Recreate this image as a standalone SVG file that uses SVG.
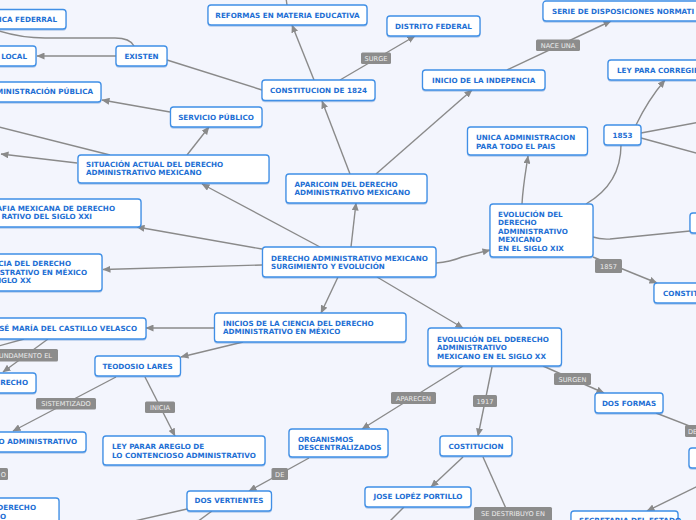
<svg xmlns="http://www.w3.org/2000/svg" width="696" height="520" viewBox="0 0 696 520">
<defs>
<marker id="ah" markerUnits="userSpaceOnUse" markerWidth="8" markerHeight="7" refX="7.5" refY="3.5" orient="auto">
<path d="M0,0 L8,3.5 L0,7 z" fill="#8a8a8a"/>
</marker>
<filter id="sh" x="-10%" y="-20%" width="120%" height="150%">
<feDropShadow dx="0" dy="1" stdDeviation="0.7" flood-color="#3a78c8" flood-opacity="0.35"/>
</filter>
<style>
.bg{fill:#f3f5fd}
.n rect{fill:#ffffff;stroke:#3f8fe6;stroke-width:1.3;filter:url(#sh)}
.n text{font-family:"DejaVu Sans",Verdana,sans-serif;font-weight:bold;font-size:7.2px;fill:#1e6fd4}
.c{fill:none;stroke:#8a8a8a;stroke-width:1.4}
.a{marker-end:url(#ah)}
.l rect{fill:#8c8c8c}
.l text{font-family:"DejaVu Sans",Verdana,sans-serif;font-size:6.6px;fill:#ececec;text-anchor:middle}
.m{text-anchor:middle}
.e{text-anchor:end}
</style>
</defs>
<rect class="bg" x="0" y="0" width="696" height="520"/>

<g id="connectors">
<path class="c" d="M134,46 Q130,38 115,38 L45,38 Q20,38 -4,30"/>
<path class="c a" d="M116,56 L37,56"/>
<path class="c" d="M262,90 L167,60"/>
<path class="c a" d="M170,112 L102,100"/>
<path class="c a" d="M187,155 L209,127"/>
<path class="c a" d="M77,163 L1,154"/>
<path class="c" d="M110,155 L-5,126"/>
<path class="c a" d="M314,80 L292,25"/>
<path class="c a" d="M340,80 L415,36"/>
<path class="c a" d="M507,70 L611,21"/>
<path class="c a" d="M350,174 L322,101"/>
<path class="c a" d="M376,174 L472,90"/>
<path class="c a" d="M351,247 L356,203"/>
<path class="c a" d="M320,247 L202,184"/>
<path class="c a" d="M262,249 L137,227"/>
<path class="c a" d="M262,265 L103,269.5"/>
<path class="c a" d="M338,277 L321,313"/>
<path class="c a" d="M377,277 L463,328"/>
<path class="c a" d="M436,263 Q450,262 462,257 L490,250"/>
<path class="c a" d="M522,204 C523,185 526,170 528,156"/>
<path class="c" d="M586,204 C610,190 621,170 621,145"/>
<path class="c a" d="M636,125 Q648,100 665,80"/>
<path class="c" d="M641,133 L700,122"/>
<path class="c" d="M641,138 L700,154"/>
<path class="c" d="M593,237 Q600,239.5 610,239 L690,231"/>
<path class="c a" d="M593,257 L657,283"/>
<path class="c a" d="M214,328 L146,328"/>
<path class="c a" d="M243,342 L181,357"/>
<path class="c" d="M24,339 L-5,347"/>
<path class="c a" d="M48,339 L3,372"/>
<path class="c a" d="M116,377 L13,431"/>
<path class="c a" d="M145,377 L175,436"/>
<path class="c a" d="M463,366 L362,429"/>
<path class="c a" d="M309,458 L249,491"/>
<path class="c" d="M187,509 L130,522"/>
<path class="c" d="M212,511 L197,522"/>
<path class="c a" d="M492,367 L478,436"/>
<path class="c a" d="M543,366 L604,393"/>
<path class="c" d="M656,413 L700,430"/>
<path class="c a" d="M700,485 L647,511"/>
<path class="c a" d="M463,457 L431,487"/>
<path class="c" d="M483,457 L512,522"/>
<path class="c" d="M404,507 L389,522"/>
<path class="c" d="M287,5 L286,-2"/>
<g class="l">
<rect x="361" y="52.5" width="30" height="11.5" rx="1.5"/><text x="376" y="60.8">SURGE</text>
<rect x="536" y="39.5" width="44" height="11.5" rx="1.5"/><text x="558" y="47.8">NACE UNA</text>
<rect x="595" y="259" width="27" height="14" rx="1.5"/><text x="608.5" y="268.5">1857</text>
<rect x="-20" y="349" width="78" height="12.5" rx="1.5"/><text x="52" y="357.5" style="text-anchor:end">FUNDAMENTO EL</text>
<rect x="36" y="398" width="60" height="11.5" rx="1.5"/><text x="66" y="406.3">SISTEMTIZADO</text>
<rect x="145" y="401.5" width="30" height="11.5" rx="1.5"/><text x="160" y="409.8">INICIA</text>
<rect x="-20" y="468" width="28" height="12" rx="1.5"/><text x="6" y="476.5" style="text-anchor:end">O</text>
<rect x="391" y="392" width="45" height="12" rx="1.5"/><text x="413.5" y="400.5">APARECEN</text>
<rect x="271.5" y="468" width="16.5" height="12" rx="1.5"/><text x="279.7" y="476.5">DE</text>
<rect x="473" y="395" width="24" height="12" rx="1.5"/><text x="485" y="403.5">1917</text>
<rect x="554" y="373" width="37" height="12" rx="1.5"/><text x="572.5" y="381.5">SURGEN</text>
<rect x="685" y="425" width="20" height="12" rx="1.5"/><text x="688" y="433.5" style="text-anchor:start">DE</text>
<rect x="474" y="507" width="78" height="14" rx="1.5"/><text x="513" y="515.5">SE DESTRIBUYO EN</text>
</g>
</g>

<g id="n_federal" class="n"><rect x="-20" y="9.5" width="86" height="19.5" rx="3"/><text class="e" x="57" y="22">ICA FEDERRAL</text></g>
<g id="n_local" class="n"><rect x="-20" y="46" width="56" height="20" rx="3"/><text class="e" x="27" y="58.5">LOCAL</text></g>
<g id="n_existen" class="n"><rect x="116" y="46" width="51" height="20" rx="3"/><text class="m" x="141.5" y="58.5">EXISTEN</text></g>
<g id="n_adminpub" class="n"><rect x="-20" y="82" width="121" height="20" rx="3"/><text class="e" x="93" y="94.3">MINISTRACIÓN PÚBLICA</text></g>
<g id="n_servicio" class="n"><rect x="170.5" y="107" width="91.5" height="20" rx="3"/><text class="m" x="216" y="119.5">SERVICIO PÚBLICO</text></g>
<g id="n_reformas" class="n"><rect x="208" y="5" width="159" height="20" rx="3"/><text class="m" x="287.5" y="17.5">REFORMAS EN MATERIA EDUCATIVA</text></g>
<g id="n_distrito" class="n"><rect x="387" y="16" width="93" height="20" rx="3"/><text class="m" x="433.5" y="28.5">DISTRITO FEDERAL</text></g>
<g id="n_const1824" class="n"><rect x="262" y="80" width="113" height="20.5" rx="3"/><text class="m" x="318.5" y="92.7">CONSTITUCION DE 1824</text></g>
<g id="n_serie" class="n"><rect x="543" y="1" width="170" height="20" rx="3"/><text x="552" y="13.5">SERIE DE DISPOSICIONES NORMATI</text></g>
<g id="n_inicio" class="n"><rect x="422.5" y="70" width="122.5" height="20" rx="3"/><text class="m" x="483.7" y="82.5">INICIO DE LA INDEPENCIA</text></g>
<g id="n_ley" class="n"><rect x="608" y="60" width="100" height="20" rx="3"/><text x="617" y="72.5">LEY PARA CORREGIR</text></g>
<g id="n_1853" class="n"><rect x="604" y="125" width="37" height="20" rx="3"/><text class="m" x="622.5" y="137.5">1853</text></g>
<g id="n_unica" class="n"><rect x="467.5" y="127" width="120" height="28" rx="3"/><text x="476" y="140">UNICA ADMINISTRACION</text><text x="476" y="148.7">PARA TODO EL PAIS</text></g>
<g id="n_xix" class="n"><rect x="490" y="204" width="103" height="53" rx="3"/><text x="498" y="216.5">EVOLUCIÓN DEL</text><text x="498" y="225">DERECHO</text><text x="498" y="233.5">ADMINISTRATIVO</text><text x="498" y="242">MEXICANO</text><text x="498" y="250.8">EN EL SIGLO XIX</text></g>
<g id="n_right1" class="n"><rect x="690" y="213" width="30" height="20" rx="3"/></g>
<g id="n_constit" class="n"><rect x="654" y="283" width="60" height="20" rx="3"/><text x="663" y="295.5">CONSTITU</text></g>
<g id="n_aparicion" class="n"><rect x="286" y="174" width="141" height="29" rx="3"/><text x="294.5" y="187">APARICOIN DEL DERECHO</text><text x="294.5" y="195.3">ADMINISTRATIVO MEXICANO</text></g>
<g id="n_central" class="n"><rect x="262.5" y="247" width="173.5" height="30" rx="3"/><text x="271" y="260.5">DERECHO ADMINISTRATIVO MEXICANO</text><text x="271" y="268.9">SURGIMIENTO Y EVOLUCIÓN</text></g>
<g id="n_situacion" class="n"><rect x="78" y="155" width="191" height="28" rx="3"/><text x="86" y="166.6">SITUACIÓN ACTUAL DEL DERECHO</text><text x="86" y="175.4">ADMINISTRATIVO MEXICANO</text></g>
<g id="n_grafia" class="n"><rect x="-20" y="199" width="161" height="28" rx="3"/><text class="e" x="115" y="210.6">AFIA MEXICANA DE DERECHO</text><text class="e" x="92" y="219.3">RATIVO DEL SIGLO XXI</text></g>
<g id="n_ciencia" class="n"><rect x="-20" y="254" width="122" height="37" rx="3"/><text class="e" x="71" y="265.6">CIA DEL DERECHO</text><text class="e" x="87" y="274.5">STRATIVO EN MÉXICO</text><text class="e" x="31" y="283.4">IGLO XX</text></g>
<g id="n_inicios" class="n"><rect x="214.5" y="313" width="191.5" height="29" rx="3"/><text x="223" y="325.6">INICIOS DE LA CIENCIA DEL DERECHO</text><text x="223" y="334.2">ADMINISTRATIVO EN MÉXICO</text></g>
<g id="n_josemaria" class="n"><rect x="-20" y="318" width="166" height="21" rx="3"/><text class="e" x="137" y="331">JOSÉ MARÍA DEL CASTILLO VELASCO</text></g>
<g id="n_derecho1" class="n"><rect x="-20" y="373" width="56" height="20" rx="3"/><text class="e" x="28" y="385">DERECHO</text></g>
<g id="n_teodosio" class="n"><rect x="95" y="356" width="85.5" height="20" rx="3"/><text class="m" x="137.5" y="368.8">TEODOSIO LARES</text></g>
<g id="n_oadmin" class="n"><rect x="-20" y="432" width="106" height="20" rx="3"/><text class="e" x="77" y="444">O ADMINISTRATIVO</text></g>
<g id="n_derecho2" class="n"><rect x="-20" y="498" width="79" height="30" rx="3"/><text class="e" x="36" y="509.8">DERECHO</text><text class="e" x="6" y="518.5">O</text></g>
<g id="n_ley2" class="n"><rect x="103" y="436" width="162" height="29" rx="3"/><text x="112" y="448.7">LEY PARAR AREGLO DE</text><text x="112" y="457.6">LO CONTENCIOSO ADMINISTRATIVO</text></g>
<g id="n_organismos" class="n"><rect x="289" y="429" width="99" height="28" rx="3"/><text x="298" y="441.7">ORGANISMOS</text><text x="298" y="449.8">DESCENTRALIZADOS</text></g>
<g id="n_dosvert" class="n"><rect x="187" y="491" width="84.5" height="20" rx="3"/><text class="m" x="229" y="503.3">DOS VERTIENTES</text></g>
<g id="n_xx" class="n"><rect x="428" y="328" width="133.5" height="38" rx="3"/><text x="437" y="341.6">EVOLUCIÓN DEL DDERECHO</text><text x="437" y="350">ADMINISTRATIVO</text><text x="437" y="358.6">MEXICANO EN EL SIGLO XX</text></g>
<g id="n_costitucion" class="n"><rect x="440" y="436" width="72" height="20" rx="3"/><text class="m" x="476" y="448.7">COSTITUCION</text></g>
<g id="n_dosformas" class="n"><rect x="595" y="393" width="68" height="20" rx="3"/><text class="m" x="629" y="405.8">DOS FORMAS</text></g>
<g id="n_right2" class="n"><rect x="689" y="448" width="30" height="20" rx="3"/></g>
<g id="n_secretaria" class="n"><rect x="571" y="511" width="107" height="20" rx="3"/><text x="579" y="522.5">SECRETARIA DEL ESTADO</text></g>
<g id="n_jose" class="n"><rect x="365" y="487" width="106" height="20" rx="3"/><text class="m" x="418" y="499">JOSE LOPÉZ PORTILLO</text></g>
</svg>
